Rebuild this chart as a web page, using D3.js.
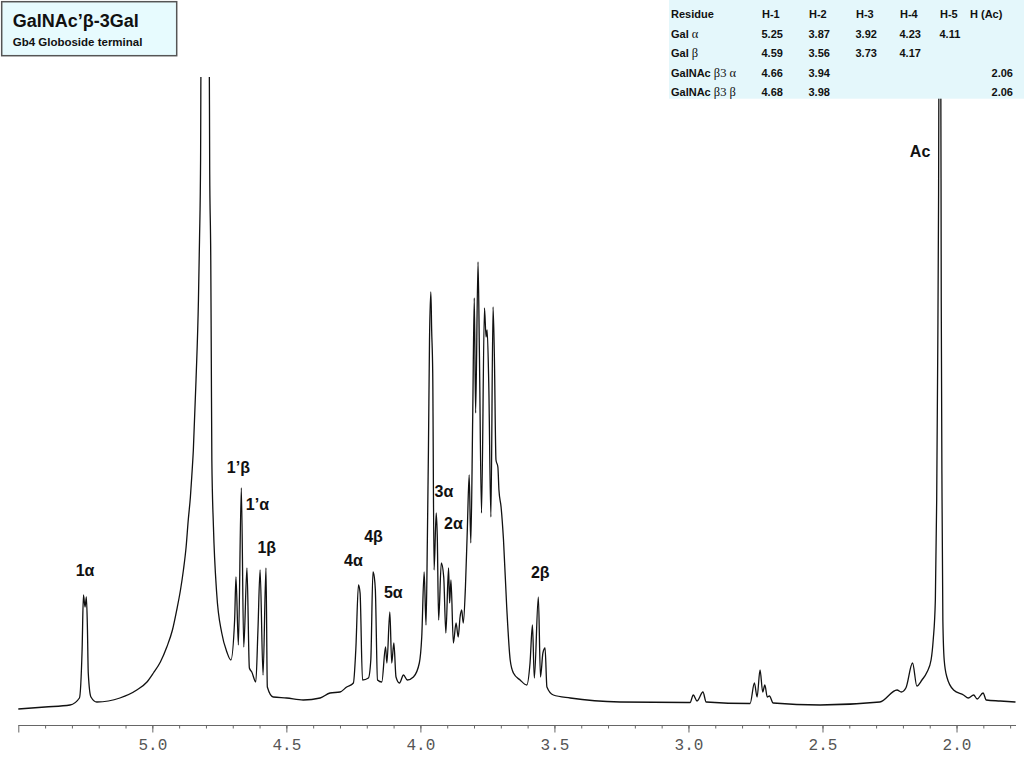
<!DOCTYPE html>
<html>
<head>
<meta charset="utf-8">
<script src="https://cdn.jsdelivr.net/npm/d3@7"></script>
<style>
  body { margin: 0; background: #fff; }
  svg { display: block; }
</style>
</head>
<body>
<div id="chart"></div>
<script>
// 1H NMR trace: [ppm, intensity]
var spectrum = [
  [5.500, 3], [5.400, 5], [5.307, 7], [5.272, 14], [5.262, 62], [5.257, 117],
  [5.251, 105], [5.246, 115], [5.242, 82], [5.239, 39], [5.229, 15], [5.207, 10],
  [5.121, 14], [5.058, 22], [5.020, 30], [4.996, 39], [4.970, 50], [4.946, 65],
  [4.925, 82], [4.909, 102], [4.895, 122], [4.884, 142], [4.874, 165], [4.866, 192],
  [4.858, 215], [4.853, 235], [4.847, 262], [4.837, 332], [4.828, 412], [4.824, 472],
  [4.820, 552], [4.818, 680], [4.788, 680], [4.786, 542], [4.782, 452], [4.780, 352],
  [4.778, 252], [4.772, 185], [4.760, 119], [4.741, 79], [4.722, 60], [4.707, 52],
  [4.693, 92], [4.688, 135], [4.679, 67], [4.668, 224], [4.659, 65], [4.647, 144],
  [4.638, 44], [4.629, 40], [4.614, 30], [4.606, 82], [4.598, 142], [4.587, 37],
  [4.576, 144], [4.571, 25], [4.549, 15], [4.499, 14], [4.437, 12], [4.374, 14],
  [4.337, 19], [4.300, 20], [4.275, 25], [4.250, 29], [4.241, 62], [4.231, 127],
  [4.225, 119], [4.216, 32], [4.194, 34], [4.185, 52], [4.177, 140], [4.172, 135],
  [4.168, 122], [4.160, 32], [4.144, 30], [4.130, 65], [4.125, 49], [4.114, 100],
  [4.107, 49], [4.099, 69], [4.091, 35], [4.078, 29], [4.063, 37], [4.049, 32],
  [4.026, 35], [4.004, 49], [3.995, 75], [3.986, 140], [3.979, 87], [3.974, 172],
  [3.970, 262], [3.966, 372], [3.961, 420], [3.958, 382], [3.954, 339], [3.949, 142],
  [3.941, 199], [3.937, 175], [3.932, 92], [3.922, 149], [3.913, 135], [3.905, 79],
  [3.895, 144], [3.891, 109], [3.886, 132], [3.877, 69], [3.867, 89], [3.859, 75],
  [3.852, 95], [3.846, 102], [3.840, 89], [3.832, 125], [3.825, 182], [3.818, 237],
  [3.812, 169], [3.805, 292], [3.799, 414], [3.794, 299], [3.785, 450], [3.780, 362],
  [3.772, 199], [3.761, 404], [3.755, 375], [3.751, 382], [3.745, 329], [3.737, 195],
  [3.729, 405], [3.724, 355], [3.718, 252], [3.711, 245], [3.707, 222], [3.699, 205],
  [3.690, 172], [3.678, 105], [3.665, 52], [3.653, 39], [3.628, 32], [3.603, 27],
  [3.591, 49], [3.582, 87], [3.575, 34], [3.560, 115], [3.552, 35], [3.543, 59],
  [3.535, 64], [3.528, 25], [3.504, 17], [3.441, 14], [3.255, 10], [2.994, 9.5],
  [2.982, 17], [2.968, 11], [2.946, 20], [2.934, 10], [2.770, 8.5], [2.754, 29],
  [2.744, 15], [2.733, 42], [2.723, 20], [2.715, 27], [2.706, 15], [2.698, 16],
  [2.684, 9], [2.509, 7], [2.286, 10], [2.222, 22], [2.206, 20], [2.189, 24],
  [2.164, 49], [2.148, 26], [2.129, 32], [2.110, 40], [2.095, 52], [2.087, 72],
  [2.079, 112], [2.074, 212], [2.070, 362], [2.067, 512], [2.065, 680], [2.059, 680],
  [2.057, 412], [2.054, 212], [2.051, 92], [2.046, 52], [2.036, 35], [2.011, 22],
  [1.974, 17], [1.956, 14], [1.936, 17], [1.923, 13], [1.901, 19], [1.889, 12],
  [1.837, 11], [1.780, 10]
];

// peak assignments: [text, ppm, intensity at label centre]
var peakLabels = [
  ["1\u03b1", 5.251, 142],
  ["1\u2019\u03b2", 4.679, 245],
  ["1\u2019\u03b1", 4.608, 208],
  ["1\u03b2", 4.573, 165],
  ["4\u03b1", 4.250, 152],
  ["4\u03b2", 4.175, 176],
  ["5\u03b1", 4.101, 120],
  ["3\u03b1", 3.912, 221],
  ["2\u03b1", 3.877, 189],
  ["2\u03b2", 3.553, 140],
  ["Ac", 2.136, 561]
];

var majorTicks = [5.5, 5.0, 4.5, 4.0, 3.5, 3.0, 2.5, 2.0];
var tickLabels = ["", "5.0", "4.5", "4.0", "3.5", "3.0", "2.5", "2.0"];

var title = "GalNAc\u2019\u03b2-3Gal";
var subtitle = "Gb4 Globoside terminal";

var tableHeader = ["Residue", "H-1", "H-2", "H-3", "H-4", "H-5", "H (Ac)"];
var residueNames = [["Gal ", "\u03b1"], ["Gal ", "\u03b2"], ["GalNAc ", "\u03b23 \u03b1"], ["GalNAc ", "\u03b23 \u03b2"]];
var shiftRows = [
  ["5.25", "3.87", "3.92", "4.23", "4.11", ""],
  ["4.59", "3.56", "3.73", "4.17", "", ""],
  ["4.66", "3.94", "", "", "", "2.06"],
  ["4.68", "3.98", "", "", "", "2.06"]
];

var width = 1024, height = 768;

var svg = d3.select("#chart").append("svg")
  .attr("width", width)
  .attr("height", height);

var x = d3.scaleLinear().domain([5.5, 1.78]).range([18.3, 1015.5]);
var y = d3.scaleLinear().domain([0, 634]).range([712, 78]);

svg.append("clipPath").attr("id", "plotclip")
  .append("rect")
  .attr("x", 0).attr("y", 77)
  .attr("width", width).attr("height", 660);

var line = d3.line()
  .curve(d3.curveMonotoneX)
  .x(function(d){ return x(d[0]); })
  .y(function(d){ return y(d[1]); });

svg.append("path")
  .datum(spectrum)
  .attr("clip-path", "url(#plotclip)")
  .attr("fill", "none")
  .attr("stroke", "#111")
  .attr("stroke-width", 1.3)
  .attr("stroke-linejoin", "round")
  .attr("d", line);

// ppm axis: minor every 0.1, major every 0.5
var axisY = 725;
var minorAxis = d3.axisBottom(x)
  .tickValues(d3.range(18, 55).map(function(v){ return v / 10; }))
  .tickSize(3.5).tickSizeOuter(0).tickFormat("");
var majorAxis = d3.axisBottom(x)
  .tickValues(majorTicks)
  .tickSize(7.5).tickSizeOuter(0).tickPadding(6)
  .tickFormat(function(d, i){ return tickLabels[i]; });

svg.append("g").attr("transform", "translate(0," + axisY + ")").call(minorAxis);
var gMajor = svg.append("g").attr("transform", "translate(0," + axisY + ")").call(majorAxis);
svg.selectAll(".domain, .tick line").attr("stroke", "#666").attr("stroke-width", 1);
gMajor.selectAll("text")
  .attr("font-family", "'Liberation Mono', 'DejaVu Sans Mono', monospace")
  .attr("font-size", 16)
  .attr("fill", "#555");

// peak labels
svg.append("g").selectAll("text")
  .data(peakLabels)
  .enter().append("text")
  .attr("x", function(d){ return x(d[1]); })
  .attr("y", function(d){ return y(d[2]); })
  .attr("dy", "0.36em")
  .attr("text-anchor", "middle")
  .attr("font-family", "'Liberation Sans', Arial, sans-serif")
  .attr("font-weight", "bold")
  .attr("font-size", 16)
  .attr("fill", "#111")
  .text(function(d){ return d[0]; });

// title box
svg.append("rect")
  .attr("x", 1.7).attr("y", 1.7)
  .attr("width", 175).attr("height", 54)
  .attr("fill", "#e7fbfe")
  .attr("stroke", "#555")
  .attr("stroke-width", 1.5);
svg.append("text")
  .attr("x", 12.7).attr("y", 26.7)
  .attr("font-family", "'Liberation Sans', Arial, sans-serif")
  .attr("font-weight", "bold").attr("font-size", 18)
  .attr("fill", "#111")
  .text(title);
svg.append("text")
  .attr("x", 12.7).attr("y", 45.7)
  .attr("font-family", "'Liberation Sans', Arial, sans-serif")
  .attr("font-weight", "bold").attr("font-size", 11.5)
  .attr("fill", "#111")
  .text(subtitle);

// chemical shift table, drawn over the spectrum
var table = svg.append("g")
  .attr("font-family", "'Liberation Sans', Arial, sans-serif")
  .attr("font-weight", "bold")
  .attr("font-size", 11)
  .attr("fill", "#111");
table.append("rect")
  .attr("x", 669).attr("y", 0)
  .attr("width", width - 669).attr("height", 98.7)
  .attr("fill", "#e4f7fb");

var colX = [671, 762, 809, 856, 900, 940, 970];
var rowY = function(i){ return 14 + 19.5 * i + 4; };

tableHeader.forEach(function(h, j){
  table.append("text").attr("x", colX[j]).attr("y", rowY(0)).text(h);
});
residueNames.forEach(function(r, i){
  var t = table.append("text").attr("x", colX[0]).attr("y", rowY(i + 1));
  t.append("tspan").text(r[0]);
  t.append("tspan")
    .attr("font-family", "'Liberation Serif', 'Times New Roman', serif")
    .attr("font-weight", "normal")
    .attr("font-size", 12.5)
    .text(r[1]);
});
shiftRows.forEach(function(row, i){
  row.forEach(function(v, j){
    if (!v) return;
    var last = j === row.length - 1;
    table.append("text")
      .attr("x", last ? 1013 : colX[j + 1] - 0.5)
      .attr("y", rowY(i + 1))
      .attr("text-anchor", last ? "end" : "start")
      .text(v);
  });
});
</script>
</body>
</html>
